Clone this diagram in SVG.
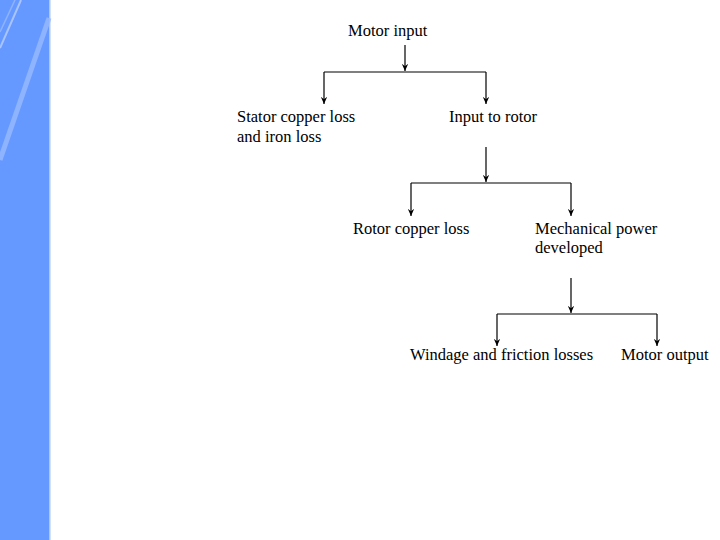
<svg xmlns="http://www.w3.org/2000/svg" width="720" height="540" viewBox="0 0 720 540">
<style>
text{font-family:"Liberation Serif","Times New Roman",serif;font-size:16.5px;fill:#000}
.c{stroke:#000;stroke-width:1.2;fill:none}
.a{stroke:#000;stroke-width:1.2;fill:none;marker-end:url(#ah)}
</style>
<defs>
<marker id="ah" viewBox="0 0 10 8" refX="9" refY="4" markerWidth="8" markerHeight="6.4" markerUnits="userSpaceOnUse" orient="auto">
<path d="M0,0 L9,4 L0,8 L3,4 Z" fill="#000"/>
</marker>
</defs>
<rect width="720" height="540" fill="#fff"/>
<g id="band">
<rect x="0" y="0" width="49" height="540" fill="#6699FF"/>
<rect x="49" y="0" width="1.5" height="540" fill="#a9c4ff"/>
<line x1="21" y1="0" x2="0" y2="48" stroke="#a9c4ff" stroke-width="2"/>
<line x1="15" y1="0" x2="0" y2="32" stroke="#8fb3ff" stroke-width="1.5"/>
<line x1="49" y1="18" x2="0" y2="160" stroke="#99bbff" stroke-width="5" opacity="0.8"/>
</g>
<g id="connectors">
<line class="a" x1="405" y1="45" x2="405" y2="71"/>
<line class="c" x1="324" y1="72" x2="486" y2="72"/>
<line class="a" x1="324" y1="72" x2="324" y2="104"/>
<line class="a" x1="486" y1="72" x2="486" y2="104"/>
<line class="a" x1="486" y1="147" x2="486" y2="182"/>
<line class="c" x1="411" y1="183" x2="571" y2="183"/>
<line class="a" x1="411" y1="183" x2="411" y2="216"/>
<line class="a" x1="571" y1="183" x2="571" y2="216"/>
<line class="a" x1="571" y1="278" x2="571" y2="313"/>
<line class="c" x1="497" y1="314" x2="657" y2="314"/>
<line class="a" x1="497" y1="314" x2="497" y2="346"/>
<line class="a" x1="657" y1="314" x2="657" y2="346"/>
</g>
<g id="motor-input"><text x="348" y="36">Motor input</text></g>
<g id="stator-loss"><text x="237" y="122">Stator copper loss</text><text x="237" y="142">and iron loss</text></g>
<g id="input-rotor"><text x="449" y="122">Input to rotor</text></g>
<g id="rotor-loss"><text x="353" y="234">Rotor copper loss</text></g>
<g id="mech-power"><text x="535" y="234">Mechanical power</text><text x="535" y="253">developed</text></g>
<g id="windage"><text x="410" y="360">Windage and friction losses</text></g>
<g id="motor-output"><text x="621" y="360">Motor output</text></g>
</svg>
